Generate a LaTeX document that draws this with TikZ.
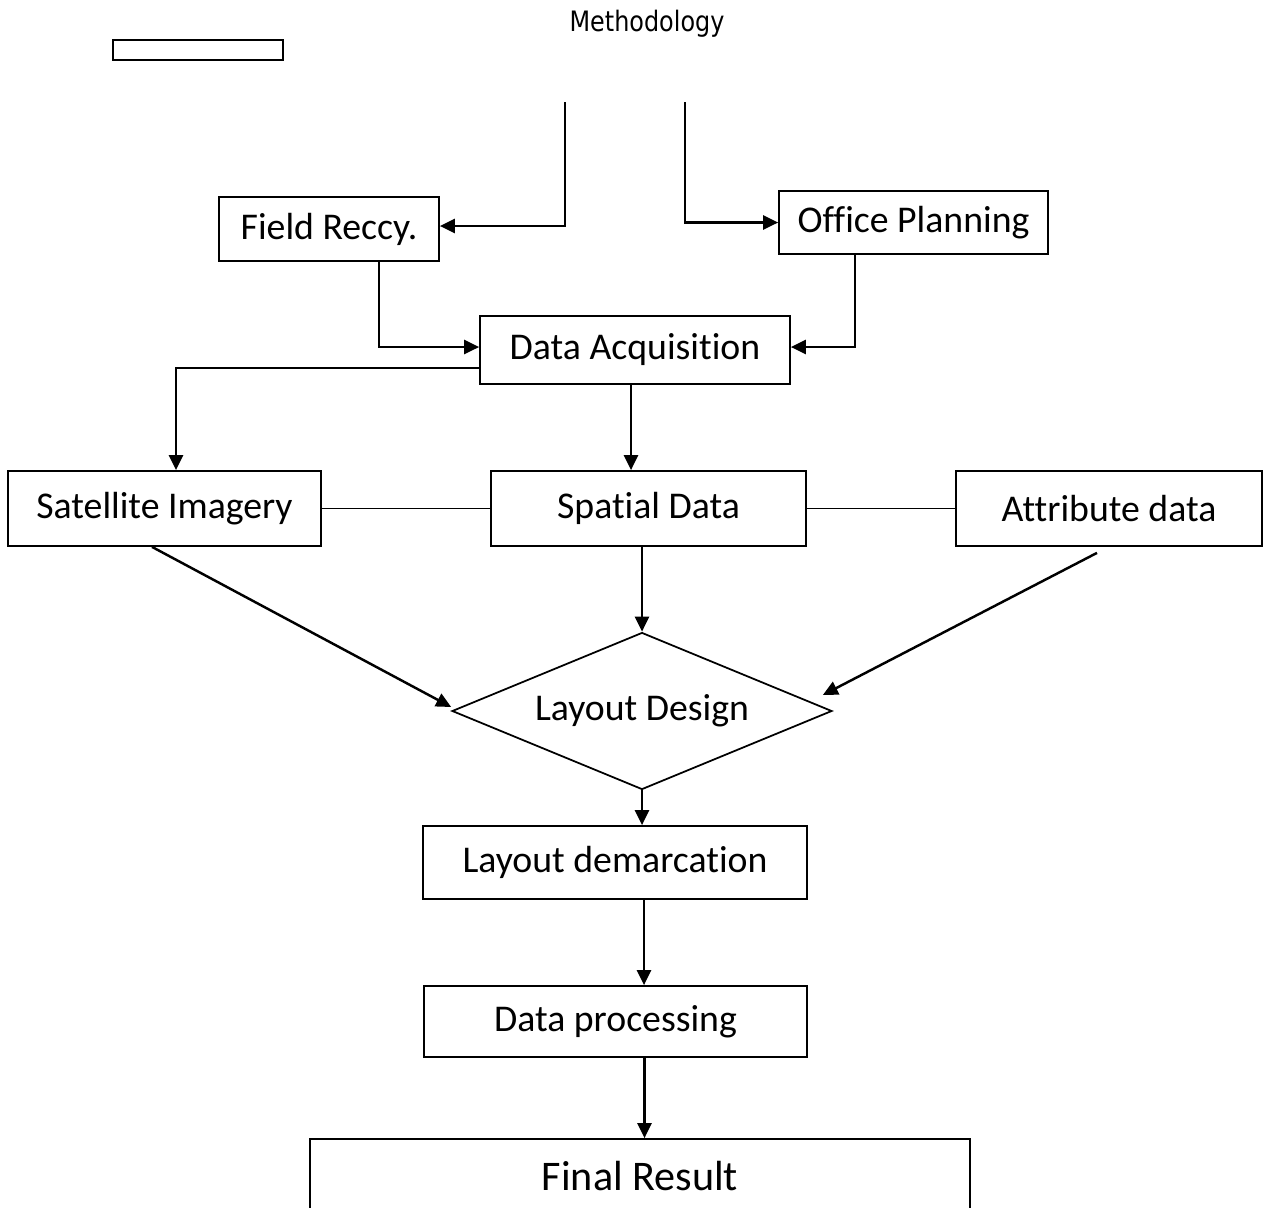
\documentclass[tikz,border=0pt]{standalone}
\usepackage{fontspec}
\setmainfont{Carlito}[Ligatures=NoCommon]
\newfontfamily\titlefont[FakeStretch=0.85]{DejaVu Sans}
\usetikzlibrary{arrows.meta,shapes.geometric}

\begin{document}
\begin{tikzpicture}[x=0.02cm,y=-0.02cm,
		box/.style={draw,line width=1pt,inner sep=0pt,font=\fontsize{21.5}{25}\selectfont},
		arr/.style={line width=1.4pt,-{Triangle[length=0.3cm,width=0.28cm]}},
		link/.style={line width=1.1pt}]
		
		\useasboundingbox (0,0) rectangle (1270,1207);
		\clip (0,0) rectangle (1270,1207);
		
		\node[font=\titlefont\fontsize{16}{19}\selectfont] (title) at (647,24) {Methodology};
		\node[box,minimum width=3.4cm,minimum height=0.4cm] (blank) at (198,50) {};
		
		\coordinate (tl) at (565,102);
		\coordinate (tr) at (685,102);
		
		\node[box,minimum width=4.4cm,minimum height=1.28cm] (field) at (329,229) {Field Reccy.};
		\node[box,minimum width=5.38cm,minimum height=1.26cm] (office) at (913.5,222.5) {Office Planning};
		\node[box,minimum width=6.2cm,minimum height=1.36cm] (acq) at (635,350) {Data Acquisition};
		
		\node[box,minimum width=6.26cm,minimum height=1.5cm] (sat) at (164.5,508.5) {Satellite Imagery};
		\node[box,minimum width=6.3cm,minimum height=1.5cm] (spatial) at (648.5,508.5) {Spatial Data};
		\node[box,minimum width=6.12cm,minimum height=1.5cm] (attr) at (1109,508.5) {Attribute data};
		
		\node[box,diamond,aspect=2.42,minimum width=7.6cm,minimum height=3.14cm] (design) at (642,711) {Layout Design};
		
		\node[box,minimum width=7.68cm,minimum height=1.46cm] (demarc) at (615,862.5) {Layout demarcation};
		\node[box,minimum width=7.66cm,minimum height=1.42cm] (proc) at (615.5,1021.5) {Data processing};
		\node[box,minimum width=13.2cm,minimum height=1.48cm,font=\fontsize{24}{29}\selectfont] (final) at (640,1176) {Final Result};
		
		\draw[arr] (tl) |- ([yshift=0.06cm]field.east);
		\draw[arr] (tr) |- (office.west);
		\draw[arr] ([xshift=1cm]field.south) |- ([yshift=0.06cm]acq.west);
		\draw[arr] ([xshift=-1.17cm]office.south) |- ([yshift=0.06cm]acq.east);
		
		\draw[arr] ([yshift=-0.36cm]acq.west) -| ([xshift=0.23cm]sat.north);
		\draw[arr] ([xshift=-0.08cm]acq.south) -- ([xshift=-0.08cm]acq.south |- spatial.north);
		\draw[link] (sat.east) -- (spatial.west);
		\draw[link] (spatial.east) -- (attr.west);
		
		\draw[arr] (design.north |- spatial.south) -- (design.north);
		\draw[arr] ([xshift=-0.25cm]sat.south) -- ([yshift=0.08cm]design.west);
		\draw[arr] ([xshift=-0.24cm,yshift=-0.12cm]attr.south) -- ([shift={(-0.2cm,0.32cm)}]design.east);
		
		\draw[arr] (design.south) -- (design.south |- demarc.north);
		\draw[arr] ([xshift=0.58cm]demarc.south) -- ([xshift=0.58cm]demarc.south |- proc.north);
		\draw[arr] ([xshift=0.58cm]proc.south) -- ([xshift=0.58cm]proc.south |- final.north);
	\end{tikzpicture}
\end{document}
